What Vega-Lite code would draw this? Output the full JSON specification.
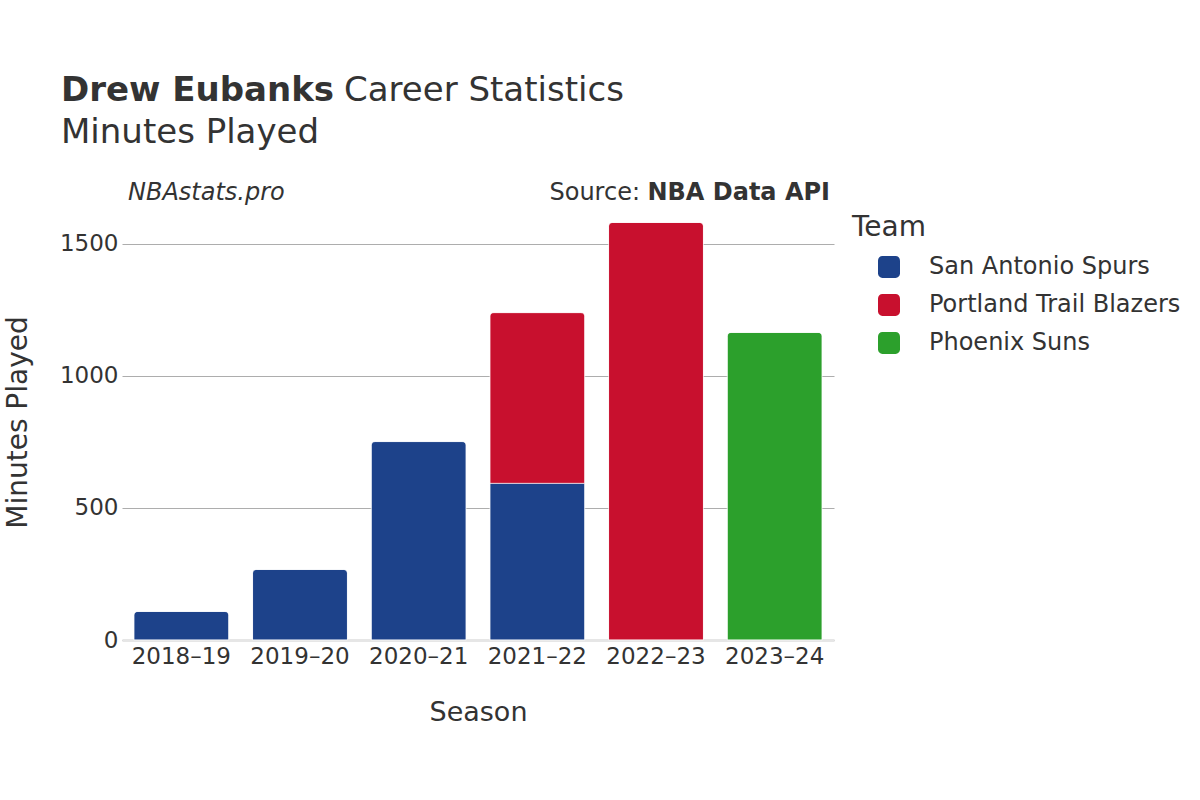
{
  "$schema": "https://vega.github.io/schema/vega-lite/v6.json",
  "autosize": {"type": "none"},
  "width": 712,
  "height": 436,
  "padding": {"left": 122, "top": 204, "right": 366, "bottom": 160},
  "background": "#ffffff",
  "config": {
    "font": "DejaVu Sans",
    "view": {"stroke": null},
    "axis": {"labelFont": "DejaVu Sans", "titleFont": "DejaVu Sans", "labelColor": "#333333", "titleColor": "#333333", "titleFontWeight": "normal"},
    "legend": {"labelFont": "DejaVu Sans", "titleFont": "DejaVu Sans"}
  },
  "layer": [
    {
      "data": {
        "values": [
          {"season": "2018–19", "team": "San Antonio Spurs", "minutes": 108},
          {"season": "2019–20", "team": "San Antonio Spurs", "minutes": 267},
          {"season": "2020–21", "team": "San Antonio Spurs", "minutes": 751},
          {"season": "2021–22", "team": "San Antonio Spurs", "minutes": 593},
          {"season": "2021–22", "team": "Portland Trail Blazers", "minutes": 646},
          {"season": "2022–23", "team": "Portland Trail Blazers", "minutes": 1580},
          {"season": "2023–24", "team": "Phoenix Suns", "minutes": 1164}
        ]
      },
      "mark": {"type": "bar", "cornerRadiusTopLeft": 4, "cornerRadiusTopRight": 4, "stroke": "#ffffff", "strokeWidth": 0.6},
      "encoding": {
        "x": {
          "field": "season", "type": "nominal",
          "scale": {"paddingInner": 0.2, "paddingOuter": 0.1},
          "axis": {"title": "Season", "labelAngle": 0, "labelFontSize": 23, "titleFontSize": 27, "titlePadding": 31, "labelPadding": 5, "ticks": false, "domainColor": "#e6e6e6", "domainWidth": 3, "grid": false}
        },
        "y": {
          "field": "minutes", "type": "quantitative", "stack": "zero",
          "scale": {"domain": [0, 1650], "nice": false},
          "axis": {"title": "Minutes Played", "values": [0, 500, 1000, 1500], "format": "d", "labelFontSize": 23, "titleFontSize": 28, "titlePadding": 27, "labelPadding": 4, "ticks": false, "domain": false, "grid": true, "gridColor": "#adadad", "gridWidth": 1}
        },
        "color": {
          "field": "team", "type": "nominal",
          "scale": {"domain": ["San Antonio Spurs", "Portland Trail Blazers", "Phoenix Suns"], "range": ["#1d428a", "#c8102e", "#2ca02c"]},
          "legend": {
            "title": "Team", "orient": "none", "legendX": 730, "legendY": 10,
            "titleFontSize": 28, "titleFontWeight": "normal", "titleColor": "#333333", "titlePadding": 13,
            "labelFontSize": 24, "labelColor": "#333333", "labelOffset": 28, "labelLimit": 400,
            "symbolType": "M -0.6 -1 H 0.6 A 0.4 0.4 0 0 1 1 -0.6 V 0.6 A 0.4 0.4 0 0 1 0.6 1 H -0.6 A 0.4 0.4 0 0 1 -1 0.6 V -0.6 A 0.4 0.4 0 0 1 -0.6 -1 Z",
            "symbolSize": 484, "symbolOpacity": 1, "symbolStrokeWidth": 0, "symbolOffset": 25, "rowPadding": 14
          }
        },
        "order": {"field": "team", "sort": "descending"}
      }
    },
    {
      "data": {"values": [{"t": "Drew Eubanks"}]},
      "mark": {"type": "text", "align": "left", "baseline": "alphabetic", "fontSize": 34, "fontWeight": "bold", "color": "#333333"},
      "encoding": {"text": {"field": "t"}, "x": {"value": -61}, "y": {"value": -103}}
    },
    {
      "data": {"values": [{"t": "Career Statistics"}]},
      "mark": {"type": "text", "align": "left", "baseline": "alphabetic", "fontSize": 34, "color": "#333333"},
      "encoding": {"text": {"field": "t"}, "x": {"value": 222}, "y": {"value": -103}}
    },
    {
      "data": {"values": [{"t": "Minutes Played"}]},
      "mark": {"type": "text", "align": "left", "baseline": "alphabetic", "fontSize": 34, "color": "#333333"},
      "encoding": {"text": {"field": "t"}, "x": {"value": -61}, "y": {"value": -61}}
    },
    {
      "data": {"values": [{"t": "NBAstats.pro"}]},
      "mark": {"type": "text", "align": "left", "baseline": "alphabetic", "fontSize": 24, "fontStyle": "italic", "color": "#333333"},
      "encoding": {"text": {"field": "t"}, "x": {"value": 6}, "y": {"value": -4}}
    },
    {
      "data": {"values": [{"t": "NBA Data API"}]},
      "mark": {"type": "text", "align": "right", "baseline": "alphabetic", "fontSize": 24, "fontWeight": "bold", "color": "#333333"},
      "encoding": {"text": {"field": "t"}, "x": {"value": 708}, "y": {"value": -4}}
    },
    {
      "data": {"values": [{"t": "Source:"}]},
      "mark": {"type": "text", "align": "right", "baseline": "alphabetic", "fontSize": 24, "color": "#333333"},
      "encoding": {"text": {"field": "t"}, "x": {"value": 518}, "y": {"value": -4}}
    }
  ]
}
